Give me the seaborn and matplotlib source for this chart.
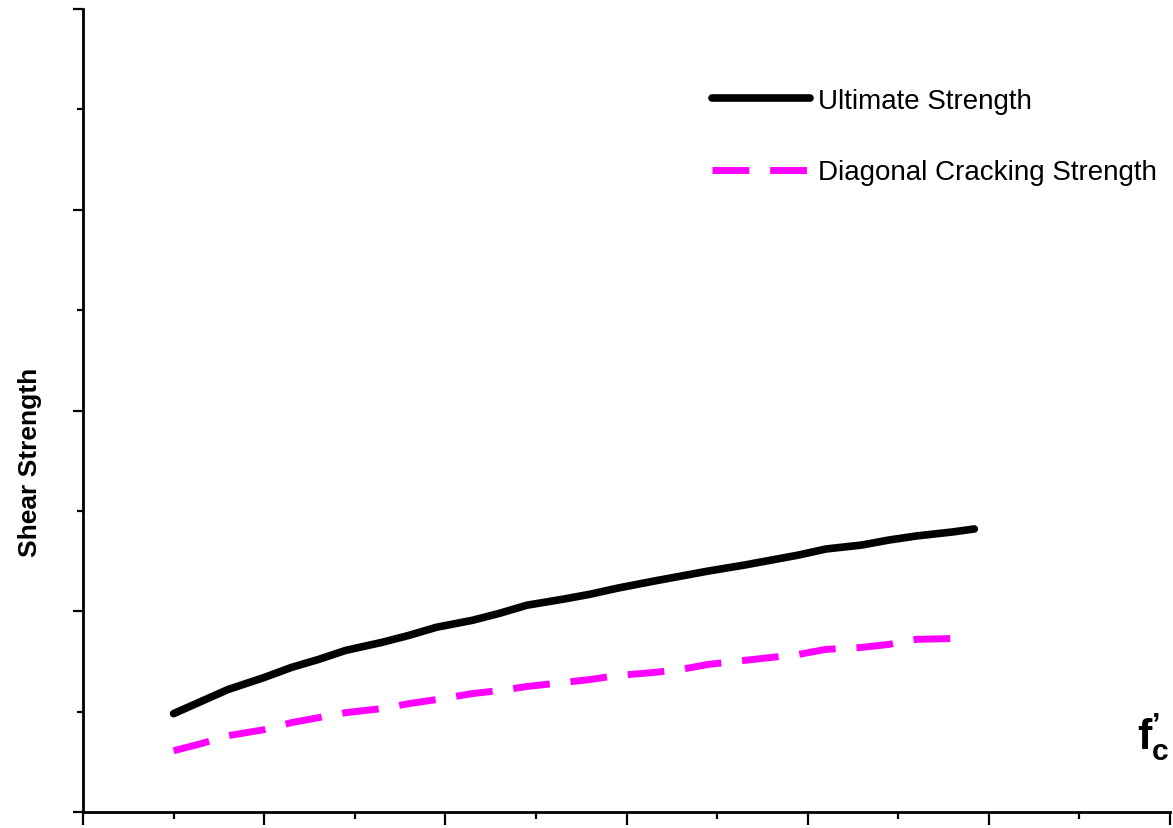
import pandas as pd
import matplotlib
matplotlib.use("Agg")
import matplotlib.pyplot as plt
import seaborn as sns

# -----------------------------
# Data (axes carry no tick labels)
# -----------------------------
fc_ult = [10, 13, 16, 20, 23, 26, 29, 33, 36, 39, 43, 46, 49, 53,
          56, 59, 63, 66, 69, 73, 76, 79, 82, 86, 89, 92, 96, 98.4]
v_ult = [0.98, 1.10, 1.22, 1.34, 1.44, 1.52, 1.61, 1.69, 1.76, 1.84,
         1.91, 1.98, 2.06, 2.12, 2.17, 2.23, 2.30, 2.35, 2.40, 2.46,
         2.51, 2.56, 2.62, 2.66, 2.71, 2.75, 2.79, 2.82]

fc_dc = [10, 13, 16, 20, 23, 26, 29, 33, 36, 39, 43, 46, 49, 53,
         56, 59, 63, 66, 69, 73, 76, 79, 82, 86, 89, 92, 97]
v_dc = [0.61, 0.68, 0.76, 0.82, 0.89, 0.94, 0.99, 1.03, 1.08, 1.12,
        1.18, 1.21, 1.25, 1.29, 1.32, 1.36, 1.39, 1.42, 1.47, 1.51,
        1.54, 1.57, 1.62, 1.64, 1.67, 1.72, 1.73]

labels = ["Ultimate Strength", "Diagonal Cracking Strength"]

df_ult = pd.DataFrame({"fc": fc_ult, "v": v_ult})
df_dc = pd.DataFrame({"fc": fc_dc, "v": v_dc})

# -----------------------------
# Style
# -----------------------------
sns.set_style("ticks")
plt.rcParams["font.family"] = ["Liberation Sans", "DejaVu Sans"]
plt.rcParams["text.color"] = "black"
plt.rcParams["mathtext.fontset"] = "custom"
plt.rcParams["mathtext.bf"] = "Liberation Sans:bold"
plt.rcParams["mathtext.rm"] = "Liberation Sans"

W, H = 1173, 829
fig = plt.figure(figsize=(W / 100, H / 100), dpi=100)
ax = fig.add_axes([83 / W, 16 / H, 1087 / W, 803 / H])

sns.lineplot(data=df_ult, x="fc", y="v", ax=ax, color="black",
             linewidth=5.5, label=labels[0])
sns.lineplot(data=df_dc, x="fc", y="v", ax=ax, color="#ff00ff",
             linewidth=5.0, linestyle=(0, (5.3, 3.0)), label=labels[1])

# -----------------------------
# Axes & ticks (no tick labels in the original)
# -----------------------------
ax.set_xlim(0, 120)
ax.set_ylim(0, 8)
ax.set_xticks(range(0, 121, 20))
ax.set_xticks(range(10, 120, 20), minor=True)
ax.set_yticks(range(0, 9, 2))
ax.set_yticks(range(1, 8, 2), minor=True)
ax.set_xticklabels([])
ax.set_yticklabels([])
ax.tick_params(axis="x", which="major", direction="out", length=9, width=1.6, color="black")
ax.tick_params(axis="x", which="minor", direction="out", length=5, width=1.6, color="black")
ax.tick_params(axis="y", which="major", direction="out", length=7, width=1.6, color="black")
ax.tick_params(axis="y", which="minor", direction="out", length=4.5, width=1.6, color="black")
sns.despine(ax=ax)
for side in ["left", "bottom"]:
    ax.spines[side].set_linewidth(2.0)
    ax.spines[side].set_color("black")

ax.set_xlabel("")
ax.set_ylabel("Shear Strength", fontweight="bold", fontsize=19, color="black")
ax.yaxis.set_label_coords(-0.038, 0.437)

# f'c label at the right end of the x axis
fig.text(1137 / W, 1 - 750 / H, "$\\mathbf{f}^{\\mathbf{\u2019}}_{\\mathbf{c}}$",
         fontsize=31, ha="left", va="baseline")

# -----------------------------
# Legend
# -----------------------------
leg = ax.legend(loc="upper left", bbox_to_anchor=(712 / W, 1 - 89 / H),
                bbox_transform=fig.transFigure, frameon=False, fontsize=20,
                handlelength=3.53, handletextpad=0.29, labelspacing=1.63,
                borderpad=0, borderaxespad=0, labelcolor="black")

fig.savefig("out.png", dpi=100)
